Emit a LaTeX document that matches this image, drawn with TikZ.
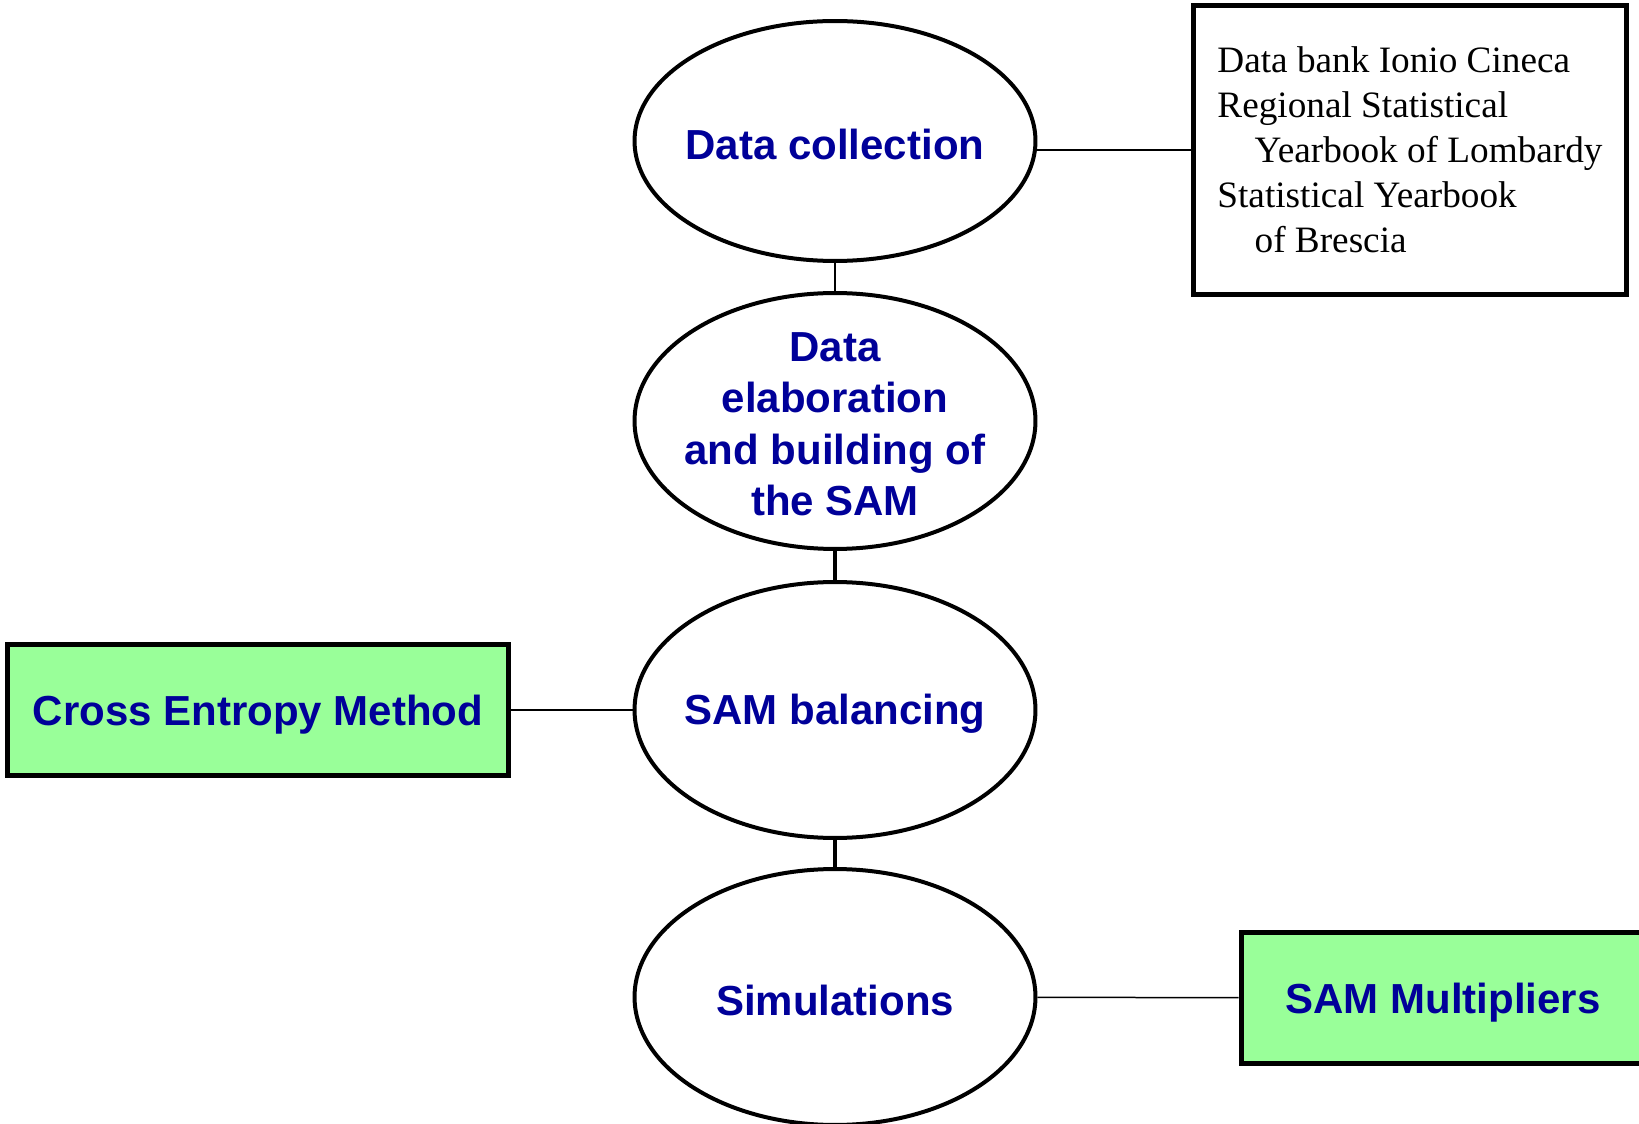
\documentclass[tikz,border=0pt]{standalone}
\usepackage{fontspec}
\setmainfont{Liberation Serif}
\setsansfont{Liberation Sans}
\usepackage{tikz}
\usetikzlibrary{shapes.geometric}
\definecolor{navyt}{HTML}{000099}
\definecolor{mint}{HTML}{99FF99}
\tikzset{
  stage/.style={ellipse,draw,line width=0.08cm,fill=white,inner sep=0pt,minimum width=8.02cm,minimum height=5.12cm},
  lbl/.style={align=center,text=navyt,inner sep=0pt,yshift=-0.07cm,font=\fontsize{23.9}{29.3}\selectfont\sffamily\bfseries},
  meth/.style={draw,line width=0.1cm,fill=mint,inner sep=0pt,text depth=0pt,minimum height=2.64cm,text=navyt,font=\fontsize{23.9}{29.3}\selectfont\sffamily\bfseries},
  src/.style={draw,line width=0.09cm,inner sep=0pt,minimum width=8.66cm,minimum height=5.78cm,align=left,font=\fontsize{21.2}{25.6}\selectfont},
  ln/.style={line width=0.03cm},
  lnk/.style={line width=0.08cm}
}
\begin{document}
\begin{tikzpicture}[x=0.02cm,y=-0.02cm]
\useasboundingbox (0,0) rectangle (1639,1124);
% main column
\node[stage,minimum height=4.8cm] (dc) at (835,141) {};
\node[stage] (de) at (835,421) {};
\node[stage] (sb) at (835,710) {};
\node[stage] (sim) at (835,997) {};
\node[lbl] (dc-t) at (dc) {Data collection};
\node[lbl] (de-t) at (de) {Data\\elaboration\\and building of\\the SAM};
\node[lbl] (sb-t) at (sb) {SAM balancing};
\node[lbl] (sim-t) at (sim) {Simulations};
% side boxes
\node[src] (bank) at (1410,150) {Data bank Ionio Cineca\\Regional Statistical\\\hspace*{1em}Yearbook of Lombardy\\Statistical Yearbook\\\hspace*{1em}of Brescia};
\node[meth,minimum width=10.02cm] (cem) at (258,710) {Cross Entropy Method};
\node[meth,minimum width=8.08cm] (mult) at (1443,998) {SAM Multipliers};
% links
\draw[ln] (dc) -- (de);
\draw[lnk] (de) -- (sb);
\draw[lnk] (sb) -- (sim);
\draw[ln] (dc.east |- bank.west) -- (bank.west);
\draw[ln] (cem) -- (sb);
\draw[ln] (sim) -- (mult);
\end{tikzpicture}
\end{document}
